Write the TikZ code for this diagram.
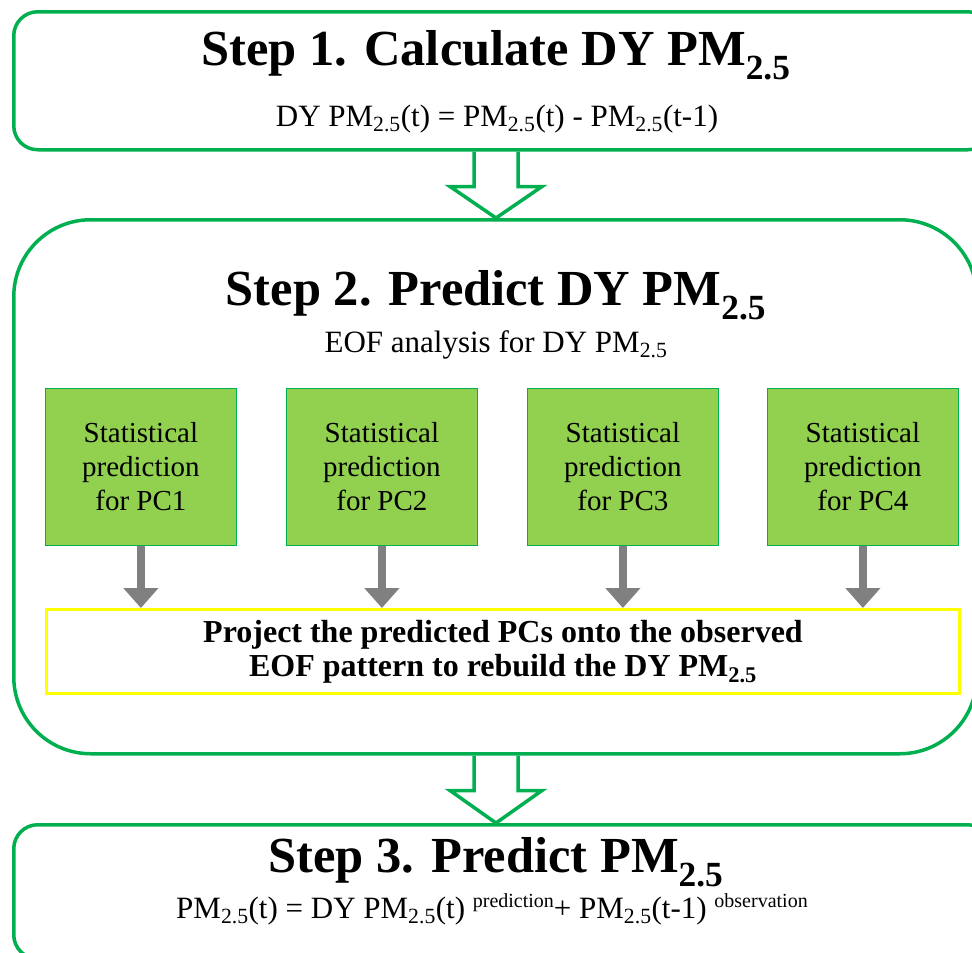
\documentclass[tikz,border=0pt]{standalone}
\usepackage{fontspec}
\setmainfont{Liberation Serif}
\usetikzlibrary{arrows.meta,calc,positioning}

\definecolor{stepgreen}{HTML}{00B050}
\definecolor{pcgreen}{HTML}{92D050}
\definecolor{projyellow}{HTML}{FFFF00}
\newcommand{\pmsub}{PM\textsubscript{2.5}}
\newcommand{\supnote}[1]{\raisebox{0.35em}{\fontsize{20}{20}\selectfont #1}}

\begin{document}
\begin{tikzpicture}[x=1pt,y=-1pt,>=Stealth,
    stepbox/.style={draw=stepgreen,line width=3.5pt,inner sep=0pt,anchor=north west},
    titletext/.style={font=\fontsize{50.5}{60}\selectfont\bfseries,inner sep=0pt,anchor=base},
    formtext/.style={font=\fontsize{31}{36}\selectfont,inner sep=0pt,anchor=base},
    pcbox/.style={draw=stepgreen,fill=pcgreen,line width=0.8pt,anchor=north west,
      minimum width=191pt,minimum height=157pt,align=center,inner sep=0pt,
      font=\fontsize{29}{34}\selectfont},
    projbox/.style={draw=projyellow,line width=3pt,anchor=north west,
      minimum width=913pt,minimum height=84pt,align=center,inner sep=0pt,
      font=\fontsize{32}{34}\selectfont\bfseries},
    bigarrow/.style={draw=stepgreen,line width=3.5pt,line join=miter},
    grayarrow/.style={-{Triangle[width=34pt,length=20pt]},draw=gray,line width=8pt}]

    \useasboundingbox (0,0) rectangle (972,953);
    \clip (0,0) rectangle (972,953);

    % step boxes
    \node[stepbox,rounded corners=24pt,minimum width=978pt,minimum height=138pt] (s1) at (12,10) {};
    \node[stepbox,rounded corners=77pt,minimum width=963pt,minimum height=534pt] (s2) at (12,218) {};
    \node[stepbox,rounded corners=24pt,minimum width=978pt,minimum height=134pt] (s3) at (12,823) {};

    % step 1
    \node[titletext] (t1) at (496,65) {Step 1. Calculate DY \pmsub};
    \node[formtext] (f1) at (497,126) {DY \pmsub(t) = \pmsub(t) - \pmsub(t-1)};

    % step 2
    \node[titletext] (t2) at (496,305) {Step 2. Predict DY \pmsub};
    \node[formtext] (f2) at (496,352) {EOF analysis for DY \pmsub};

    \foreach \i/\x in {1/45,2/286,3/527,4/767}
      \node[pcbox] (pc\i) at (\x,388) {Statistical\\prediction\\for PC\i};

    \node[projbox] (proj) at (45,608) {Project the predicted PCs onto the observed\\EOF pattern to rebuild the DY \pmsub};

    \foreach \i in {1,...,4}
      \draw[grayarrow] (pc\i.south) -- (pc\i.south |- proj.north);

    % step 3
    \node[titletext] (t3) at (496,872) {Step 3. Predict \pmsub};
    \node[formtext] (f3) at (492,918) {\pmsub(t) = DY \pmsub(t) \supnote{prediction}+ \pmsub(t-1) \supnote{observation}};

    % hollow arrows between the steps
    \draw[bigarrow] ($(t1 |- s1.south)+(-22,0)$) -- ++(0,35) -- ++(-24,0)
      -- (t1 |- s2.north) -- ($(t1 |- s1.south)+(46,35)$) -- ++(-24,0) -- ++(0,-35);
    \draw[bigarrow] ($(t1 |- s2.south)+(-22,0)$) -- ++(0,35) -- ++(-24,0)
      -- (t1 |- s3.north) -- ($(t1 |- s2.south)+(46,35)$) -- ++(-24,0) -- ++(0,-35);
\end{tikzpicture}
\end{document}
